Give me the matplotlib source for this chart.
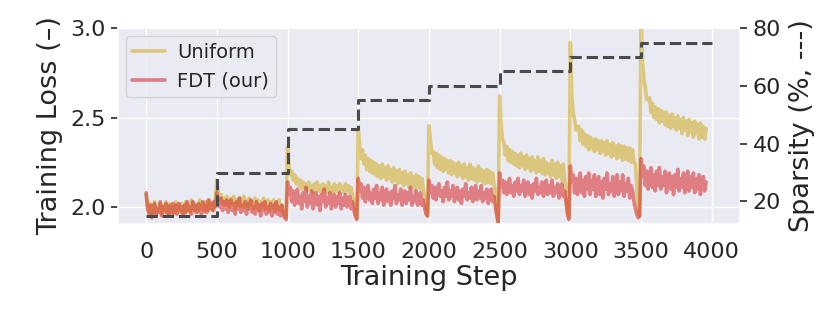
import numpy as np
import matplotlib
matplotlib.use("Agg")
import matplotlib.pyplot as plt
import seaborn as sns

# ---- data ----
steps = list(range(0, 3970, 10))

uniform_loss = [
    # 0-490
    2.07, 2.01, 1.97, 2.02, 1.95, 1.99, 2.03, 1.96, 2.00, 1.98,
    2.02, 1.96, 2.01, 1.97, 2.03, 1.99, 1.96, 2.02, 1.98, 2.00,
    1.96, 2.03, 1.98, 2.01, 1.97, 2.02, 1.99, 1.96, 2.03, 1.98,
    2.01, 1.97, 2.04, 1.99, 2.02, 1.97, 2.01, 1.98, 2.04, 1.99,
    2.02, 1.97, 2.03, 2.00, 1.98, 2.04, 1.99, 2.02, 1.98, 2.05,
    # 500-990
    2.15, 2.08, 2.04, 2.07, 2.02, 2.05, 2.01, 2.06, 2.03, 2.00,
    2.05, 2.02, 2.06, 1.99, 2.04, 2.01, 2.05, 2.00, 2.03, 2.06,
    2.00, 2.04, 1.99, 2.05, 2.01, 2.03, 1.99, 2.05, 2.00, 2.04,
    1.98, 2.03, 2.00, 2.05, 1.99, 2.02, 2.04, 1.98, 2.03, 2.00,
    2.04, 1.98, 2.02, 1.99, 2.04, 1.98, 2.01, 1.97, 1.95, 1.94,
    # 1000-1490
    2.335, 2.24, 2.18, 2.20, 2.15, 2.18, 2.13, 2.16, 2.12, 2.15,
    2.10, 2.14, 2.11, 2.13, 2.09, 2.14, 2.10, 2.12, 2.08, 2.13,
    2.10, 2.14, 2.09, 2.12, 2.08, 2.13, 2.10, 2.12, 2.08, 2.14,
    2.09, 2.11, 2.08, 2.13, 2.09, 2.12, 2.08, 2.13, 2.10, 2.11,
    2.08, 2.13, 2.09, 2.12, 2.08, 2.11, 2.07, 2.03, 1.96, 1.94,
    # 1500-1990
    2.44, 2.34, 2.27, 2.32, 2.24, 2.29, 2.21, 2.27, 2.20, 2.26,
    2.19, 2.25, 2.18, 2.24, 2.17, 2.23, 2.16, 2.24, 2.17, 2.22,
    2.15, 2.23, 2.16, 2.21, 2.14, 2.22, 2.15, 2.20, 2.13, 2.21,
    2.14, 2.19, 2.12, 2.20, 2.13, 2.18, 2.11, 2.19, 2.12, 2.17,
    2.10, 2.18, 2.11, 2.17, 2.10, 2.16, 2.10, 2.06, 1.98, 1.95,
    # 2000-2490
    2.455, 2.37, 2.30, 2.31, 2.24, 2.30, 2.22, 2.29, 2.21, 2.28,
    2.20, 2.27, 2.21, 2.26, 2.19, 2.26, 2.18, 2.25, 2.19, 2.24,
    2.17, 2.25, 2.18, 2.23, 2.16, 2.24, 2.17, 2.22, 2.15, 2.24,
    2.16, 2.22, 2.15, 2.21, 2.14, 2.23, 2.15, 2.21, 2.14, 2.20,
    2.13, 2.21, 2.14, 2.20, 2.13, 2.19, 2.13, 2.08, 1.97, 1.92,
    # 2500-2990
    2.62, 2.46, 2.38, 2.36, 2.29, 2.34, 2.26, 2.32, 2.25, 2.31,
    2.24, 2.30, 2.23, 2.29, 2.22, 2.30, 2.23, 2.28, 2.21, 2.29,
    2.22, 2.27, 2.20, 2.28, 2.21, 2.26, 2.19, 2.28, 2.20, 2.26,
    2.19, 2.27, 2.18, 2.25, 2.19, 2.24, 2.17, 2.26, 2.18, 2.24,
    2.16, 2.25, 2.17, 2.23, 2.15, 2.24, 2.15, 2.10, 1.98, 1.94,
    # 3000-3490
    2.92, 2.62, 2.52, 2.49, 2.43, 2.44, 2.45, 2.37, 2.43, 2.35,
    2.41, 2.34, 2.40, 2.32, 2.39, 2.33, 2.38, 2.31, 2.38, 2.32,
    2.37, 2.30, 2.37, 2.31, 2.36, 2.29, 2.37, 2.30, 2.35, 2.28,
    2.36, 2.29, 2.34, 2.27, 2.35, 2.28, 2.34, 2.26, 2.34, 2.27,
    2.33, 2.26, 2.33, 2.25, 2.32, 2.25, 2.24, 2.12, 1.98, 1.95,
    # 3500-3960
    3.10, 2.82, 2.71, 2.67, 2.60, 2.60, 2.61, 2.53, 2.58, 2.50,
    2.56, 2.49, 2.55, 2.47, 2.54, 2.48, 2.53, 2.46, 2.53, 2.45,
    2.51, 2.44, 2.52, 2.45, 2.50, 2.43, 2.51, 2.44, 2.49, 2.41,
    2.50, 2.43, 2.48, 2.40, 2.49, 2.42, 2.47, 2.39, 2.48, 2.41,
    2.46, 2.38, 2.47, 2.39, 2.45, 2.38, 2.44,
]

fdt_loss = [
    # 0-490
    2.08, 1.99, 1.96, 2.01, 1.94, 2.00, 2.02, 1.95, 1.99, 1.97,
    2.03, 1.95, 2.00, 1.98, 2.02, 1.96, 1.99, 2.01, 1.95, 2.02,
    1.97, 2.01, 1.96, 2.02, 1.98, 2.00, 1.95, 2.01, 1.97, 2.03,
    1.98, 2.00, 1.96, 2.03, 1.98, 2.01, 1.97, 2.02, 1.99, 1.96,
    2.03, 1.98, 2.01, 1.97, 2.04, 1.99, 2.02, 1.98, 2.03, 2.00,
    # 500-990
    2.08, 2.03, 2.00, 2.05, 1.98, 2.03, 1.99, 2.04, 1.97, 2.01,
    2.04, 1.98, 2.02, 1.96, 2.03, 1.99, 2.05, 1.97, 2.01, 1.98,
    2.03, 1.96, 2.02, 1.99, 2.04, 1.97, 2.00, 1.96, 2.03, 1.98,
    2.01, 1.95, 2.02, 1.98, 2.03, 1.96, 2.00, 1.97, 2.02, 1.95,
    2.01, 1.97, 2.03, 1.96, 2.00, 1.95, 2.01, 1.96, 1.94, 1.93,
    # 1000-1490
    2.14, 2.07, 2.11, 2.03, 2.09, 2.01, 2.07, 2.10, 2.02, 2.06,
    1.99, 2.08, 2.03, 2.11, 2.00, 2.06, 2.02, 2.09, 1.99, 2.05,
    2.08, 2.01, 2.06, 1.98, 2.07, 2.03, 2.10, 2.00, 2.05, 2.02,
    2.08, 1.99, 2.04, 2.07, 2.00, 2.06, 2.02, 2.08, 1.99, 2.05,
    2.01, 2.07, 2.00, 2.04, 2.06, 1.99, 2.03, 1.98, 1.95, 1.93,
    # 1500-1990
    2.16, 2.09, 2.13, 2.05, 2.11, 2.03, 2.09, 2.12, 2.04, 2.08,
    2.02, 2.10, 2.05, 2.12, 2.02, 2.08, 2.04, 2.11, 2.01, 2.07,
    2.10, 2.03, 2.08, 2.01, 2.09, 2.05, 2.12, 2.02, 2.07, 2.04,
    2.10, 2.01, 2.06, 2.09, 2.02, 2.08, 2.04, 2.11, 2.01, 2.06,
    2.03, 2.09, 2.01, 2.06, 2.08, 2.01, 2.04, 1.99, 1.96, 1.95,
    # 2000-2490
    2.15, 2.08, 2.12, 2.05, 2.11, 2.04, 2.10, 2.13, 2.06, 2.09,
    2.03, 2.11, 2.06, 2.14, 2.04, 2.09, 2.06, 2.12, 2.03, 2.08,
    2.11, 2.04, 2.09, 2.02, 2.10, 2.06, 2.13, 2.04, 2.08, 2.05,
    2.11, 2.03, 2.08, 2.12, 2.04, 2.09, 2.05, 2.12, 2.03, 2.08,
    2.05, 2.10, 2.02, 2.07, 2.10, 2.03, 2.06, 2.00, 1.95, 1.91,
    # 2500-2990
    2.19, 2.11, 2.15, 2.08, 2.14, 2.07, 2.12, 2.16, 2.08, 2.12,
    2.06, 2.14, 2.09, 2.16, 2.07, 2.12, 2.09, 2.15, 2.06, 2.11,
    2.14, 2.07, 2.12, 2.05, 2.13, 2.09, 2.16, 2.07, 2.11, 2.08,
    2.14, 2.06, 2.11, 2.15, 2.07, 2.12, 2.08, 2.15, 2.06, 2.11,
    2.08, 2.13, 2.05, 2.10, 2.13, 2.06, 2.09, 2.02, 1.96, 1.93,
    # 3000-3490
    2.23, 2.14, 2.18, 2.08, 2.16, 2.07, 2.14, 2.19, 2.08, 2.15,
    2.06, 2.17, 2.10, 2.19, 2.07, 2.15, 2.10, 2.18, 2.06, 2.13,
    2.17, 2.07, 2.14, 2.05, 2.16, 2.10, 2.19, 2.07, 2.13, 2.09,
    2.17, 2.06, 2.13, 2.18, 2.07, 2.14, 2.09, 2.18, 2.06, 2.13,
    2.09, 2.16, 2.05, 2.12, 2.09, 2.03, 1.99, 1.96, 1.94, 1.95,
    # 3500-3960
    2.27, 2.17, 2.23, 2.12, 2.20, 2.10, 2.18, 2.22, 2.11, 2.18,
    2.09, 2.20, 2.12, 2.22, 2.10, 2.17, 2.12, 2.20, 2.08, 2.16,
    2.19, 2.10, 2.17, 2.07, 2.18, 2.11, 2.21, 2.09, 2.16, 2.11,
    2.19, 2.08, 2.15, 2.20, 2.09, 2.17, 2.11, 2.19, 2.08, 2.16,
    2.10, 2.18, 2.07, 2.15, 2.17, 2.09, 2.14,
]

sparsity_steps = [0, 500, 1000, 1500, 2000, 2500, 3000, 3500, 4000]
sparsity_pct = [15, 30, 45, 55, 60, 65, 70, 75, 75]

x_ticks = [0, 500, 1000, 1500, 2000, 2500, 3000, 3500, 4000]
loss_ticks = [2.0, 2.5, 3.0]
sparsity_ticks = [20, 40, 60, 80]

# ---- style ----
sns.set_theme(style="darkgrid")
plt.rcParams['font.family'] = ['DejaVu Sans']
text_color = "#262626"

fig = plt.figure(figsize=(8.3, 3.12), dpi=100)
ax = fig.add_axes([0.142, 0.282, 0.7496, 0.628])

ax.plot(steps, uniform_loss, color="#d4b440", alpha=0.65, lw=2.6, label="Uniform")
ax.plot(steps, fdt_loss, color="#d62728", alpha=0.55, lw=2.6, label="FDT (our)")

ax.set_xlim(-200, 4200)
ax.set_ylim(1.905, 3.0)
ax.set_xticks(x_ticks)
ax.set_yticks(loss_ticks)
ax.set_yticklabels([f"{t:.1f}" for t in loss_ticks])
ax.tick_params(axis="x", labelsize=16, pad=13, length=0, colors=text_color)
ax.tick_params(axis="y", labelsize=16, left=True, length=5, width=1.2,
               pad=4, colors=text_color)
ax.set_xlabel("Training Step", fontsize=19.5, color=text_color, labelpad=2)
ax.set_ylabel("Training Loss (–)", fontsize=19.5, color=text_color, labelpad=5)

leg = ax.legend(loc="upper left", fontsize=14, frameon=True, handlelength=1.7,
                handletextpad=0.6, borderaxespad=0.4, borderpad=0.35)
for h in leg.get_lines():
    h.set_linewidth(2.6)

ax2 = ax.twinx()
ax2.step(sparsity_steps, sparsity_pct, where="post", color="#4a4a4a",
         lw=2.2, ls="--")
ax2.set_ylim(12.2, 80)
ax2.set_yticks(sparsity_ticks)
ax2.grid(False)
ax2.tick_params(axis="y", labelsize=16, right=True, length=5, width=1.2,
                pad=4, colors=text_color)
ax2.set_ylabel("Sparsity (%, ---)", fontsize=19.5, color=text_color, labelpad=6)
for s in ax2.spines.values():
    s.set_visible(False)

fig.savefig("out.png", dpi=100)
